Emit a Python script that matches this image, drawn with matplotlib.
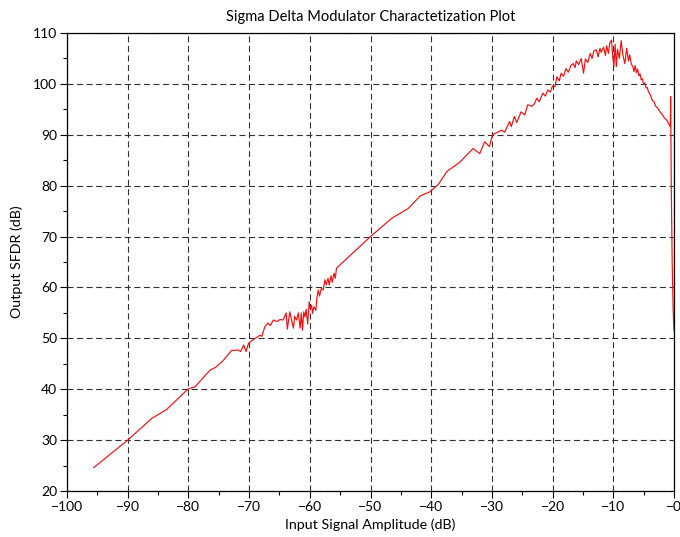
import numpy as np
import matplotlib
matplotlib.use("Agg")
import matplotlib.pyplot as plt
from matplotlib.ticker import MultipleLocator

input_db = [
    -95.6, -90.0, -86.0, -83.6, -80.1, -78.9, -76.4, -75.5, -74.3, -72.9,
    -71.8, -71.4, -70.9, -70.5, -70.1, -69.5, -69.0, -68.2, -67.9, -67.4,
    -66.9, -66.5, -66.0, -65.4, -64.9, -64.4, -63.9, -63.7, -63.3, -63.0,
    -62.7, -62.5, -62.2, -61.9, -61.6, -61.4, -61.2, -61.0, -60.8, -60.6,
    -60.35, -60.1, -59.9, -59.7, -59.55, -59.3, -59.0, -58.8, -58.6, -58.4,
    -58.1, -57.8, -57.5, -57.3, -57.0, -56.8, -56.5, -56.3, -56.0, -55.8,
    -55.6, -50.0, -46.5, -43.8, -41.8, -40.2, -38.8, -37.4, -35.3, -33.1,
    -32.0, -31.2, -30.4, -29.9, -28.4, -27.9, -27.1, -26.8, -26.3, -25.9,
    -25.2, -24.6, -24.1, -23.4, -23.0, -22.6, -22.2, -21.6, -21.2, -20.8,
    -20.4, -20.0, -19.6, -19.3, -18.9, -18.6, -18.2, -17.8, -17.4, -17.0,
    -16.6, -16.3, -16.1, -15.7, -15.3, -14.9, -14.6, -14.2, -13.8, -13.5,
    -13.2, -12.8, -12.5, -12.2, -12.0, -11.6, -11.3, -11.1, -10.8, -10.6,
    -10.3, -10.1, -9.9, -9.7, -9.5, -9.3, -9.0, -8.7, -8.4, -8.1,
    -7.8, -7.5, -7.3, -7.0, -6.8, -6.6, -6.4, -6.2, -6.0, -5.8,
    -5.6, -5.4, -5.2, -5.0, -4.8, -4.6, -4.4, -4.2, -3.9, -3.6,
    -3.3, -3.0, -2.6, -2.3, -1.9, -1.5, -1.2, -0.9, -0.6, -0.55,
    -0.45, -0.3, -0.15, 0.0,
]

sfdr_db = [
    24.6, 30.0, 34.3, 36.0, 40.0, 40.5, 43.8, 44.3, 45.6, 47.6,
    47.7, 47.4, 48.7, 47.4, 49.0, 49.6, 50.0, 50.6, 50.4, 52.3,
    53.0, 52.5, 53.6, 53.3, 53.7, 53.6, 55.0, 51.8, 55.2, 53.6,
    52.0, 54.3, 53.6, 55.0, 52.0, 55.0, 51.6, 55.2, 54.2, 55.7,
    52.8, 57.2, 55.8, 56.5, 54.9, 56.2, 55.5, 58.2, 59.5, 58.3,
    59.8, 59.5, 61.5, 60.5, 61.8, 60.5, 62.3, 61.0, 62.8, 61.8,
    63.8, 70.0, 73.6, 75.5, 78.0, 78.8, 80.3, 82.8, 84.6, 87.3,
    86.3, 88.6, 87.7, 90.0, 90.9, 90.5, 92.6, 91.6, 93.6, 92.4,
    94.5, 93.9, 95.9, 95.6, 96.1, 97.2, 96.5, 98.2, 97.6, 98.8,
    98.4, 99.6, 99.5, 101.4, 100.6, 102.1, 101.5, 103.0, 102.3, 103.6,
    104.0, 103.2, 104.5, 103.8, 105.0, 102.1, 104.9, 104.2, 106.0, 105.0,
    106.5, 106.7, 105.3, 107.0, 106.2, 107.2, 105.6, 107.5, 106.0, 108.0,
    108.6, 105.5, 103.4, 107.8, 103.4, 106.8, 105.0, 108.5, 105.5, 104.0,
    107.0, 104.5, 105.7, 103.8, 103.5, 102.4, 103.6, 102.2, 102.9, 101.6,
    102.0, 100.8, 101.0, 99.9, 100.2, 99.2, 99.3, 98.4, 97.9, 96.8,
    96.5, 95.6, 95.1, 94.5, 93.9, 93.2, 92.9, 92.2, 91.6, 97.5,
    80.0, 65.0, 56.0, 51.5,
]

x_ticks = list(range(-100, 1, 10))
x_tick_labels = ["\u2212" + str(abs(t)) if t < 0 else "\u22120" for t in x_ticks]
y_ticks = list(range(20, 111, 10))

plt.rcParams["font.family"] = ["Lato", "DejaVu Sans"]

fig = plt.figure(figsize=(6.8, 5.37), dpi=100)
ax = fig.add_axes([67 / 680, 46 / 537, 607 / 680, 458 / 537])

ax.plot(input_db, sfdr_db, color="#f01010", linewidth=0.85)

ax.set_xlim(-100, 0)
ax.set_ylim(20, 110)

ax.set_xticks(x_ticks)
ax.set_xticklabels(x_tick_labels)
ax.set_yticks(y_ticks)
ax.xaxis.set_minor_locator(MultipleLocator(5))
ax.yaxis.set_minor_locator(MultipleLocator(5))

ax.tick_params(which="major", direction="out", length=5, width=0.8,
               labelsize=10, pad=2)
ax.tick_params(which="minor", direction="out", length=3, width=0.8)

ax.grid(True, which="major", color="#303030", linewidth=0.8,
        linestyle=(0, (5.4, 3.2)))

for spine in ax.spines.values():
    spine.set_linewidth(0.9)

ax.set_title("Sigma Delta Modulator Charactetization Plot", fontsize=10.5, pad=9)
ax.set_xlabel("Input Signal Amplitude (dB)", fontsize=10.3, labelpad=4)
ax.set_ylabel("Output SFDR (dB)", fontsize=10.3, labelpad=7)

fig.savefig("out.png", dpi=100)
